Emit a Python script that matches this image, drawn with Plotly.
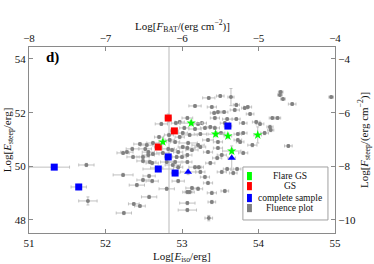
import plotly.graph_objects as go

# ---------------- data ----------------
gray_x = [53.64, 53.50, 53.35, 53.17, 54.29, 54.28, 54.32, 54.44, 54.95, 53.71,
          53.82, 53.86, 53.39, 53.69, 53.89, 53.42, 53.47, 53.55, 53.43, 53.59,
          53.71, 53.80, 53.97, 54.02, 54.18, 54.25, 54.15, 54.16, 54.08, 53.80,
          53.73, 54.39, 53.26, 53.21, 53.07, 53.30, 53.37, 53.43, 53.56, 53.51,
          53.73, 53.76, 53.92, 53.47, 53.34, 53.24, 53.17, 53.10, 53.21, 53.08,
          53.07, 53.13, 53.24, 53.34, 53.47, 53.52, 53.46, 53.80, 53.17, 53.22,
          53.37, 53.52, 53.59, 53.72, 53.67, 53.24, 53.30, 53.13, 53.21, 53.10,
          53.34, 53.56, 53.39, 53.07, 53.39, 53.07, 53.35, 51.75, 52.23, 51.77,
          52.41, 52.49, 52.57, 52.61, 52.57, 52.80, 52.37, 52.45, 52.24, 52.95,
          53.07, 52.58, 52.49, 52.88, 52.91, 52.73, 52.92, 52.97, 53.03, 53.01,
          52.97, 52.83, 52.70, 52.84, 52.91, 52.45, 52.54, 52.62, 52.52, 52.56,
          52.35, 52.28, 52.23, 52.36, 52.49, 52.56, 52.62, 52.75, 52.82, 52.87,
          52.95, 52.93, 53.01, 53.00, 53.07, 52.61, 52.80, 52.95, 52.67, 53.07]
gray_y = [52.58, 52.62, 52.55, 52.25, 52.77, 52.66, 52.51, 52.32, 52.58, 52.29,
          52.17, 52.21, 52.21, 52.10, 51.95, 51.99, 52.02, 52.02, 51.80, 51.76,
          51.76, 51.61, 51.65, 51.58, 51.80, 51.80, 51.47, 51.35, 51.24, 51.24,
          51.20, 50.76, 51.61, 51.58, 51.80, 51.43, 51.47, 51.43, 51.61, 51.24,
          50.98, 50.91, 50.79, 50.91, 50.98, 51.20, 51.39, 51.17, 50.79, 50.87,
          50.68, 50.61, 50.72, 50.53, 50.68, 50.42, 50.31, 50.50, 49.97, 49.97,
          50.12, 49.79, 49.90, 49.90, 49.75, 49.79, 49.60, 49.19, 49.16, 49.04,
          49.38, 49.08, 49.01, 48.63, 48.67, 48.37, 48.07, 50.05, 49.68, 48.71,
          49.30, 49.49, 49.64, 49.45, 48.86, 49.16, 48.60, 48.52, 48.26, 49.45,
          49.04, 50.16, 50.20, 50.05, 50.16, 51.58, 51.61, 51.65, 51.43, 51.24,
          51.09, 51.17, 51.09, 50.98, 50.91, 50.83, 50.79, 50.87, 50.65, 50.53,
          50.65, 50.53, 50.50, 50.35, 50.35, 50.42, 50.46, 50.50, 50.65, 50.61,
          50.53, 50.35, 50.72, 50.35, 50.42, 50.12, 50.16, 49.97, 49.94, 50.16]
gray_xerr = [0.04, 0.05, 0.08, 0.08, 0.03, 0.03, 0.03, 0.05, 0.03, 0.04,
             0.04, 0.05, 0.06, 0.06, 0.05, 0.05, 0.05, 0.05, 0.06, 0.06,
             0.05, 0.05, 0.05, 0.05, 0.04, 0.04, 0.04, 0.04, 0.05, 0.05,
             0.05, 0.05, 0.06, 0.06, 0.07, 0.06, 0.06, 0.06, 0.06, 0.05,
             0.05, 0.05, 0.06, 0.06, 0.07, 0.08, 0.08, 0.10, 0.08, 0.12,
             0.10, 0.08, 0.07, 0.06, 0.06, 0.06, 0.06, 0.06, 0.08, 0.06,
             0.06, 0.06, 0.05, 0.05, 0.05, 0.06, 0.06, 0.08, 0.06, 0.06,
             0.06, 0.05, 0.06, 0.10, 0.05, 0.12, 0.05, 0.10, 0.13, 0.12,
             0.10, 0.08, 0.08, 0.08, 0.10, 0.10, 0.07, 0.07, 0.10, 0.08,
             0.06, 0.08, 0.08, 0.10, 0.08, 0.08, 0.06, 0.06, 0.06, 0.06,
             0.06, 0.06, 0.06, 0.06, 0.06, 0.08, 0.08, 0.08, 0.08, 0.08,
             0.08, 0.08, 0.08, 0.08, 0.08, 0.08, 0.08, 0.08, 0.08, 0.06,
             0.06, 0.06, 0.06, 0.06, 0.06, 0.08, 0.08, 0.06, 0.08, 0.06]
gray_yerr = [0.32, 0.05, 0.05, 0.05, 0.05, 0.05, 0.05, 0.05, 0.05, 0.06,
             0.05, 0.05, 0.05, 0.06, 0.05, 0.05, 0.05, 0.05, 0.06, 0.05,
             0.05, 0.05, 0.06, 0.06, 0.05, 0.05, 0.06, 0.06, 0.06, 0.05,
             0.05, 0.05, 0.05, 0.05, 0.06, 0.05, 0.05, 0.05, 0.05, 0.05,
             0.06, 0.06, 0.06, 0.05, 0.05, 0.05, 0.05, 0.06, 0.06, 0.06,
             0.06, 0.06, 0.05, 0.05, 0.05, 0.05, 0.06, 0.06, 0.06, 0.06,
             0.06, 0.06, 0.06, 0.06, 0.06, 0.06, 0.06, 0.06, 0.06, 0.06,
             0.06, 0.06, 0.06, 0.06, 0.06, 0.06, 0.10, 0.06, 0.06, 0.15,
             0.06, 0.06, 0.06, 0.06, 0.06, 0.06, 0.05, 0.05, 0.06, 0.06,
             0.06, 0.06, 0.06, 0.06, 0.06, 0.06, 0.06, 0.06, 0.06, 0.06,
             0.06, 0.06, 0.06, 0.06, 0.06, 0.06, 0.06, 0.06, 0.06, 0.06,
             0.06, 0.06, 0.06, 0.06, 0.06, 0.06, 0.06, 0.06, 0.06, 0.06,
             0.06, 0.06, 0.06, 0.06, 0.06, 0.06, 0.06, 0.06, 0.06, 0.06]

gs_x = [52.82, 52.90, 52.69]
gs_y = [51.80, 51.32, 50.72]
gs_xerr = [0.04, 0.05, 0.05]
gs_yerr = [0.15, 0.08, 0.08]

flare_x = [52.75, 53.12, 53.44, 53.60, 53.65, 53.99]
flare_y = [50.91, 51.61, 51.20, 51.13, 50.57, 51.17]
flare_xerr = [0.05, 0.15, 0.10, 0.05, 0.12, 0.05]
flare_yerr = [0.10, 0.10, 0.10, 0.10, 0.10, 0.30]

comp_sq_x = [51.33, 51.65, 52.82, 52.69, 52.91, 53.60]
comp_sq_y = [49.97, 49.23, 50.35, 49.90, 49.75, 51.50]
comp_sq_xerr_plus = [0.20, 0.10, 0.05, 0.20, 0.05, 0.05]
comp_sq_xerr_minus = [0.33, 0.10, 0.05, 0.20, 0.05, 0.05]
comp_sq_yerr = [0.05, 0.10, 0.10, 0.10, 0.10, 0.10]

comp_tri_x = [53.08, 53.65]
comp_tri_y = [49.79, 50.31]
comp_tri_xerr = [0.10, 0.05]
comp_tri_yerr = [0.10, 0.45]

ref_line_x = 52.83

legend_labels = ["Flare GS", "GS", "complete sample", "Fluence plot"]
legend_colors = ["#00ff00", "#ff0000", "#0000ff", "#808080"]

title_bottom = "Log[<i>E</i><sub>iso</sub>/erg]"
title_top = "Log[<i>F</i><sub>BAT</sub>/(erg cm<sup>−2</sup>)]"
title_left = "Log[<i>E</i><sub>steep</sub>/erg]"
title_right = "Log[<i>F</i><sub>steep</sub>/(erg cm<sup>−2</sup>)]"

# ---------------- styles ----------------
FONT = "Liberation Serif"
EB = "#c0c0c0"
FRAME = "#8a8a8a"
TXT = "#111111"

fig = go.Figure()

def eb(arr, minus=None):
    d = dict(type="data", array=arr, color=EB, thickness=1, width=1.5)
    if minus is not None:
        d["arrayminus"] = minus
        d["symmetric"] = False
    return d

fig.add_trace(go.Scatter(x=gray_x, y=gray_y, mode="markers",
                         marker=dict(color="#808080", size=4),
                         error_x=eb(gray_xerr), error_y=eb(gray_yerr),
                         showlegend=False))
fig.add_trace(go.Scatter(x=comp_sq_x, y=comp_sq_y, mode="markers",
                         marker=dict(color="#0000ff", size=7, symbol="square"),
                         error_x=eb(comp_sq_xerr_plus, comp_sq_xerr_minus),
                         error_y=eb(comp_sq_yerr), showlegend=False))
fig.add_trace(go.Scatter(x=comp_tri_x, y=comp_tri_y, mode="markers",
                         marker=dict(color="#0000ff", size=7, symbol="triangle-up"),
                         error_x=eb(comp_tri_xerr), error_y=eb(comp_tri_yerr),
                         showlegend=False))
fig.add_trace(go.Scatter(x=gs_x, y=gs_y, mode="markers",
                         marker=dict(color="#ff0000", size=7, symbol="square"),
                         error_x=eb(gs_xerr), error_y=eb(gs_yerr),
                         showlegend=False))
fig.add_trace(go.Scatter(x=flare_x, y=flare_y, mode="markers",
                         marker=dict(color="#00ff00", size=7, symbol="star"),
                         error_x=eb(flare_xerr), error_y=eb(flare_yerr),
                         showlegend=False))

# invisible trace on the secondary axes so they are drawn
fig.add_trace(go.Scatter(x=[-6], y=[-7], xaxis="x2", yaxis="y2", mode="markers",
                         marker=dict(opacity=0), showlegend=False, hoverinfo="skip"))

# vertical reference line
fig.add_shape(type="line", xref="x", yref="paper", x0=ref_line_x, x1=ref_line_x,
              y0=0, y1=1, line=dict(color="#dcdcdc", width=2), layer="below")

# custom legend
fig.add_shape(type="rect", xref="paper", yref="paper", x0=0.699, x1=0.977,
              y0=0.070, y1=0.355, line=dict(color="#a0a0a0", width=1),
              fillcolor="white")
row_y = [0.306, 0.252, 0.188, 0.134]
for lab, col, yy in zip(legend_labels, legend_colors, row_y):
    fig.add_shape(type="rect", xref="paper", yref="paper",
                  x0=0.7125, x1=0.7285, y0=yy - 0.022, y1=yy + 0.022,
                  line=dict(width=0), fillcolor=col)
    fig.add_annotation(xref="paper", yref="paper", x=0.853, y=yy, text=lab,
                       showarrow=False, xanchor="center", yanchor="middle",
                       font=dict(family=FONT, size=9.5, color=TXT))

fig.add_annotation(xref="paper", yref="paper", x=0.05, y=0.945, text="<b>d)</b>",
                   showarrow=False, xanchor="left", yanchor="middle",
                   font=dict(family=FONT, size=15, color="black"))

# axis titles as annotations
tfont = dict(family=FONT, size=11, color=TXT)
fig.add_annotation(xref="paper", yref="paper", x=0.5, y=-0.129, text=title_bottom,
                   showarrow=False, xanchor="center", yanchor="middle", font=tfont)
fig.add_annotation(xref="paper", yref="paper", x=0.5, y=1.115, text=title_top,
                   showarrow=False, xanchor="center", yanchor="middle", font=tfont)
fig.add_annotation(xref="paper", yref="paper", x=-0.068, y=0.5, text=title_left,
                   showarrow=False, xanchor="center", yanchor="middle", textangle=-90,
                   font=tfont)
fig.add_annotation(xref="paper", yref="paper", x=1.095, y=0.5, text=title_right,
                   showarrow=False, xanchor="center", yanchor="middle", textangle=-90,
                   font=tfont)

axis_common = dict(showline=True, linecolor=FRAME, linewidth=1, ticks="inside",
                   ticklen=4, tickcolor=FRAME, showgrid=False, zeroline=False,
                   automargin=False,
                   tickfont=dict(family=FONT, size=11, color=TXT))

fig.update_layout(
    width=374, height=264,
    margin=dict(l=29, r=39, t=47, b=31, autoexpand=False),
    plot_bgcolor="white", paper_bgcolor="white",
    xaxis=dict(range=[51, 55], dtick=1, tick0=51, **axis_common),
    yaxis=dict(range=[47.515, 54.447], dtick=2, tick0=48, **axis_common),
    xaxis2=dict(range=[-8, -4], dtick=1, tick0=-8, overlaying="x", side="top",
                **axis_common),
    yaxis2=dict(range=[-10.485, -3.553], dtick=2, tick0=-10, overlaying="y",
                side="right", **axis_common),
    showlegend=False,
)

fig.write_html("out.html", config={"displayModeBar": False},
               post_script="document.body.style.margin='0';document.body.style.overflow='hidden';")
